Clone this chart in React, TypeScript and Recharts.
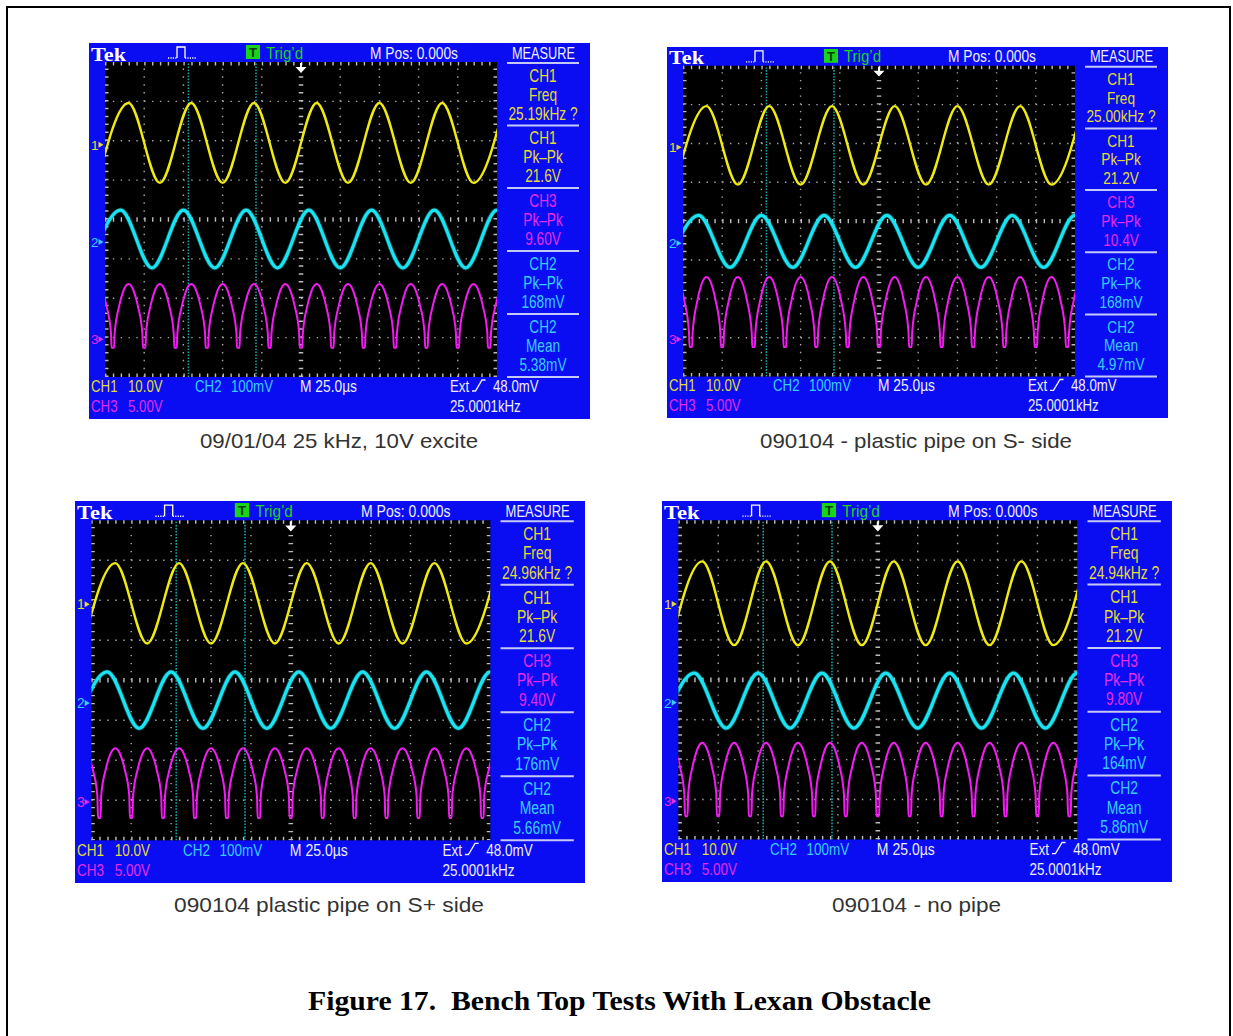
import React from 'react';
import { LineChart, Line, XAxis, YAxis, ReferenceLine } from 'recharts';

// scope colours
const BLUE = '#0a0cf2';
const YEL = '#f0ea10';
const YEL_TXT = '#e2dc34';
const CYA = '#1ae4f2';
const CYA_TXT = '#38ccff';
const MAG = '#f21cf2';
const MAG_TXT = '#e52ce8';
const WHITE_TXT = '#eeeefa';
const SANS = "'Liberation Sans', Arial, sans-serif";
const SERIF = "'Liberation Serif', 'Times New Roman', serif";

// screen: 10 div x 25 us wide, 8 div tall
const X_DIVS = [25, 50, 75, 100, 150, 175, 200, 225];
const Y_DIVS = [1, 2, 3, 5, 6, 7];
const CURSOR_T = [53.2, 96.3];

// ground markers (div from bottom of screen) and scale per div (CH2 in mV)
const CH1_GROUND = 5.9;
const CH2_GROUND = 3.43;
const CH3_GROUND = 0.96;
const CH1_VDIV = 10;
const CH2_VDIV = 100;
const CH3_VDIV = 5;

const CH1_PEAK_T = [15, 55, 95, 135, 175, 215, 255];
const CH1_TROUGH_T = [-5, 35, 75, 115, 155, 195, 235];
const CH2_PEAK_T = [10, 50, 90, 130, 170, 210, 250];
const CH2_TROUGH_T = [-10, 30, 70, 110, 150, 190, 230, 270];
const CH3_DIP_T = [-15, 5, 25, 45, 65, 85, 105, 125, 145, 165, 185, 205, 225, 245, 265];
const CH3_PEAK_T = [-5, 15, 35, 55, 75, 95, 115, 135, 155, 175, 195, 215, 235, 255];
// shape of one CH3 hump around its dip: offset (us) and fraction of peak (null = dip level)
const HUMP_DT = [-6.5, -4, -1.2, -0.8, 0.8, 1.2, 4, 6.5];
const HUMP_FRAC = [0.86, 0.6, 0.12, null, null, 0.12, 0.6, 0.86];

// per shot levels
const CH1_PEAK_V = [10.6, 10.6, 10.3, 10.7];
const CH1_TROUGH_V = [-9.7, -9.6, -9.8, -10.3];
const CH2_PEAK_MV = [81, 72, 78, 74];
const CH2_TROUGH_MV = [-66, -62, -63, -64];
const CH3_PEAK_V = [7.0, 8.0, 6.7, 7.3];
const CH3_DIP_V = [-1.1, -1.0, -2.0, -1.9];

const FREQ_READ = ['25.19kHz ?', '25.00kHz ?', '24.96kHz ?', '24.94kHz ?'];
const CH1_PKPK = ['21.6V', '21.2V', '21.6V', '21.2V'];
const CH3_PKPK = ['9.60V', '10.4V', '9.40V', '9.80V'];
const CH2_PKPK = ['168mV', '168mV', '176mV', '164mV'];
const CH2_MEAN = ['5.38mV', '4.97mV', '5.66mV', '5.86mV'];

const CAPTIONS = [
  '09/01/04 25 kHz, 10V excite',
  '090104 - plastic pipe on S- side',
  '090104 plastic pipe on S+ side',
  '090104 - no pipe',
];

// layout
const PANEL_BOX = [
  [89, 43, 501, 376],
  [667, 47, 501, 371],
  [75, 501, 510, 382],
  [662, 501, 510, 381],
];
const CAPTION_POS = [
  [200, 448, 278],
  [760, 448, 312],
  [174, 912, 310],
  [832, 912, 169],
];

const PANEL_W = 501;
const PANEL_H = 376;
const GX = 16;
const GY = 19;
const GW = 392;
const GH = 315;
const SEP_Y = [19, 81.5, 144, 207, 270, 333];

const toDiv = (v: number, ground: number, vdiv: number) => ground + v / vdiv;

function sineSeries(peakT: number[], troughT: number[], pv: number, tv: number, ground: number, vdiv: number) {
  const pts = [
    ...peakT.map((t) => ({ t, y: toDiv(pv, ground, vdiv) })),
    ...troughT.map((t) => ({ t, y: toDiv(tv, ground, vdiv) })),
  ];
  return pts.sort((a, b) => a.t - b.t);
}

function humpSeries(pv: number, dv: number) {
  const pts: { t: number; y: number }[] = [];
  CH3_DIP_T.forEach((td) => {
    HUMP_DT.forEach((dt, j) => {
      const f = HUMP_FRAC[j];
      pts.push({ t: td + dt, y: toDiv(f === null ? dv : f * pv, CH3_GROUND, CH3_VDIV) });
    });
  });
  CH3_PEAK_T.forEach((t) => pts.push({ t, y: toDiv(pv, CH3_GROUND, CH3_VDIV) }));
  return pts.sort((a, b) => a.t - b.t);
}

const T = ({ x, y, fill, size = 17, sx = 0.78, anchor = 'start', len, children }: any) =>
  len ? (
    <text x={x} y={y} fill={fill} fontSize={size} textAnchor={anchor} textLength={len}
      lengthAdjust="spacingAndGlyphs" fontFamily={SANS} style={{ whiteSpace: 'pre' }}>{children}</text>
  ) : (
    <text transform={`translate(${x} ${y}) scale(${sx} 1)`} fill={fill} fontSize={size}
      textAnchor={anchor} fontFamily={SANS} style={{ whiteSpace: 'pre' }}>{children}</text>
  );

const markerY = (g: number) => GY + (8 - g) * (GH / 8);

function Marker({ n, g, color }: any) {
  const y = markerY(g);
  return (
    <g>
      <text x={2} y={y + 5} fill={color} fontSize={13.5} fontFamily={SANS}>{n}</text>
      <path d={`M9.5 ${y - 3} L14.5 ${y} L9.5 ${y + 3} Z`} fill={color} />
    </g>
  );
}

function Screen({ i }: { i: number }) {
  const ch1 = sineSeries(CH1_PEAK_T, CH1_TROUGH_T, CH1_PEAK_V[i], CH1_TROUGH_V[i], CH1_GROUND, CH1_VDIV);
  const ch2 = sineSeries(CH2_PEAK_T, CH2_TROUGH_T, CH2_PEAK_MV[i], CH2_TROUGH_MV[i], CH2_GROUND, CH2_VDIV);
  const ch3 = humpSeries(CH3_PEAK_V[i], CH3_DIP_V[i]);
  const dotH = '1.4 6.44';
  const dotV = '1.4 6.475';
  return (
    <div style={{ position: 'absolute', left: GX, top: GY, width: GW, height: GH, background: '#000' }}>
      <LineChart width={GW} height={GH} margin={{ top: 0, right: 0, bottom: 0, left: 0 }}>
        <XAxis type="number" dataKey="t" domain={[0, 250]} hide allowDataOverflow />
        <YAxis type="number" domain={[0, 8]} hide allowDataOverflow />
        {X_DIVS.map((x) => (
          <ReferenceLine key={'x' + x} x={x} stroke="#a8a8a8" strokeWidth={1.4} strokeDasharray={dotV} />
        ))}
        {Y_DIVS.map((y) => (
          <ReferenceLine key={'y' + y} y={y} stroke="#a8a8a8" strokeWidth={1.4} strokeDasharray={dotH} />
        ))}
        <ReferenceLine x={125} stroke="#bdbdbd" strokeWidth={4.5} strokeDasharray={dotV} />
        <ReferenceLine y={4} stroke="#bdbdbd" strokeWidth={4.5} strokeDasharray={dotH} />
        <ReferenceLine x={0} stroke="#bdbdbd" strokeWidth={7} strokeDasharray={dotV} />
        <ReferenceLine x={250} stroke="#bdbdbd" strokeWidth={7} strokeDasharray={dotV} />
        <ReferenceLine y={0} stroke="#bdbdbd" strokeWidth={7} strokeDasharray={dotH} />
        <ReferenceLine y={8} stroke="#bdbdbd" strokeWidth={7} strokeDasharray={dotH} />
        {CURSOR_T.map((t) => (
          <ReferenceLine key={'c' + t} x={t} stroke="#16a6ac" strokeWidth={1.5} strokeDasharray="1.6 1.4" />
        ))}
        <Line data={ch3} dataKey="y" type="monotone" stroke={MAG} strokeWidth={2} dot={false} activeDot={false} isAnimationActive={false} />
        <Line data={ch2} dataKey="y" type="monotone" stroke={CYA} strokeOpacity={0.3} strokeWidth={5} dot={false} activeDot={false} isAnimationActive={false} />
        <Line data={ch2} dataKey="y" type="monotone" stroke={CYA} strokeWidth={3.2} dot={false} activeDot={false} isAnimationActive={false} />
        <Line data={ch1} dataKey="y" type="monotone" stroke={YEL} strokeWidth={2.4} dot={false} activeDot={false} isAnimationActive={false} />
      </LineChart>
    </div>
  );
}

function Panel({ i }: { i: number }) {
  const [x, y, w, h] = PANEL_BOX[i];
  const blocks = [
    { c: YEL_TXT, rows: ['CH1', 'Freq', FREQ_READ[i]] },
    { c: YEL_TXT, rows: ['CH1', 'Pk–Pk', CH1_PKPK[i]] },
    { c: MAG_TXT, rows: ['CH3', 'Pk–Pk', CH3_PKPK[i]] },
    { c: CYA_TXT, rows: ['CH2', 'Pk–Pk', CH2_PKPK[i]] },
    { c: CYA_TXT, rows: ['CH2', 'Mean', CH2_MEAN[i]] },
  ];
  const cx = GX + GW / 2;
  return (
    <div
      style={{
        position: 'absolute', left: x, top: y, width: PANEL_W, height: PANEL_H, background: BLUE,
        transform: `scale(${w / PANEL_W}, ${h / PANEL_H})`, transformOrigin: '0 0',
      }}
    >
      <Screen i={i} />
      <svg width={PANEL_W} height={PANEL_H} style={{ position: 'absolute', left: 0, top: 0, pointerEvents: 'none' }}>
        <text x={2} y={17.5} fill="#fff" fontSize={18.5} fontWeight="bold" fontFamily={SERIF}
          textLength={35} lengthAdjust="spacingAndGlyphs">Tek</text>
        <path d="M79 15 H88 M96 15 H107" stroke="#fff" strokeWidth={1.3} strokeDasharray="1.2 1.2" fill="none" />
        <path d="M88 15 V4 H96 V15" stroke="#fff" strokeWidth={1.3} fill="none" />
        <rect x={157} y={2} width={14} height={14} fill="#19d419" />
        <text x={164} y={14} fill="#0b3a0b" fontSize={13} fontWeight="bold" textAnchor="middle" fontFamily={SANS}>T</text>
        <T x={177} y={15.5} fill="#1fd41f" size={16} len={37}>Trig’d</T>
        <T x={281} y={15.5} fill={WHITE_TXT} size={16} len={88}>M Pos: 0.000s</T>
        <T x={454.5} y={15.5} fill={WHITE_TXT} size={16} len={63} anchor="middle">MEASURE</T>

        {SEP_Y.map((sy) => (
          <line key={sy} x1={418} x2={490} y1={sy + 1} y2={sy + 1} stroke="#c4c8f4" strokeWidth={2} />
        ))}
        {blocks.map((b, k) =>
          b.rows.map((r, j) => (
            <T key={k + '-' + j} x={454} y={SEP_Y[k] + 19.5 + j * 19} fill={b.c} size={17.5} anchor="middle">{r}</T>
          ))
        )}

        <Marker n="1" g={CH1_GROUND} color={YEL_TXT} />
        <Marker n="2" g={CH2_GROUND} color={CYA_TXT} />
        <Marker n="3" g={CH3_GROUND} color={MAG_TXT} />

        <path d={`M${cx - 1} 20 h2 v4 h-2 Z M${cx - 5.5} 24 H${cx + 5.5} L${cx} 30 Z`} fill="#fff" />

        <T x={2} y={349} fill={YEL_TXT}>CH1</T>
        <T x={39} y={349} fill={YEL_TXT}>10.0V</T>
        <T x={106} y={349} fill={CYA_TXT}>CH2</T>
        <T x={142} y={349} fill={CYA_TXT}>100mV</T>
        <T x={211} y={349} fill={WHITE_TXT} len={57}>M 25.0µs</T>
        <T x={361} y={349} fill={WHITE_TXT}>Ext</T>
        <path d="M383 348 H386.5 L393 337 H396.5" stroke={WHITE_TXT} strokeWidth={1.4} fill="none" />
        <T x={404} y={349} fill={WHITE_TXT}>48.0mV</T>
        <T x={2} y={369} fill={MAG_TXT}>CH3</T>
        <T x={39} y={369} fill={MAG_TXT}>5.00V</T>
        <T x={361} y={369} fill={WHITE_TXT}>25.0001kHz</T>
      </svg>
    </div>
  );
}

export default function App() {
  return (
    <div style={{ position: 'absolute', left: 0, top: 0, width: 1233, height: 1036, background: '#fff', overflow: 'hidden' }}>
      <div style={{ position: 'absolute', left: 6, top: 6, width: 1221, height: 1100, border: '2px solid #000' }} />
      <svg width={1233} height={1036} style={{ position: 'absolute', left: 0, top: 0 }}>
        {CAPTIONS.map((c, k) => (
          <text key={c} x={CAPTION_POS[k][0]} y={CAPTION_POS[k][1]} fontSize={21} fill="#333"
            fontFamily={SANS} textLength={CAPTION_POS[k][2]} lengthAdjust="spacingAndGlyphs">{c}</text>
        ))}
        <text x={308} y={1010} fontSize={28} fontWeight="bold" fill="#000" fontFamily={SERIF}
          textLength={623} lengthAdjust="spacingAndGlyphs" style={{ whiteSpace: 'pre' }}>
          Figure 17.  Bench Top Tests With Lexan Obstacle
        </text>
      </svg>
      {PANEL_BOX.map((_, i) => (
        <Panel key={i} i={i} />
      ))}
    </div>
  );
}
